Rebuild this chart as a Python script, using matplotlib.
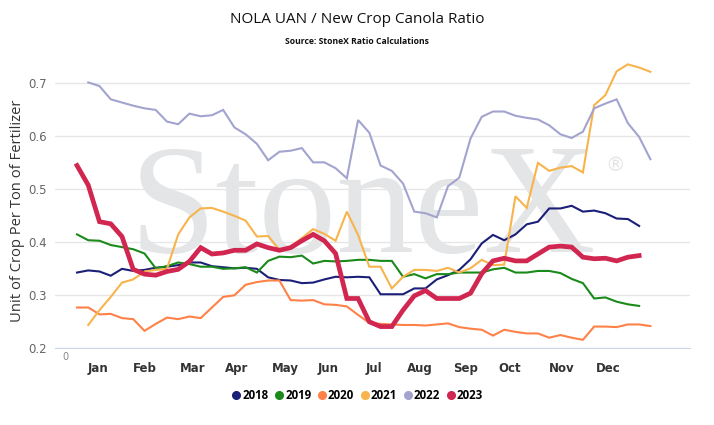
import matplotlib.pyplot as plt
from matplotlib.lines import Line2D
import numpy as np

# weekly ratio readings (None = no reading that week)
r2018 = [0.343, 0.347, 0.345, 0.337, 0.350, 0.346, 0.348, 0.352, 0.354, 0.357,
         0.362, 0.362, 0.355, 0.353, 0.351, 0.352, 0.350, 0.334, 0.329, 0.328,
         0.323, 0.324, 0.330, 0.335, 0.334, 0.335, 0.334, 0.302, 0.302, 0.302,
         0.313, 0.313, 0.330, 0.338, 0.348, 0.368, 0.398, 0.414, 0.404, 0.415,
         0.434, 0.439, 0.464, 0.464, 0.469, 0.458, 0.460, 0.455, 0.445, 0.444,
         0.431, None]
r2019 = [0.415, 0.404, 0.403, 0.395, 0.391, 0.387, 0.379, 0.351, 0.355, 0.362,
         0.359, 0.354, 0.354, 0.350, 0.351, 0.353, 0.343, 0.365, 0.373, 0.372,
         0.375, 0.360, 0.365, 0.364, 0.365, 0.367, 0.367, 0.365, 0.365, 0.335,
         0.340, 0.332, 0.340, 0.340, 0.343, 0.343, 0.343, 0.349, 0.352, 0.343,
         0.343, 0.346, 0.346, 0.342, 0.331, 0.323, 0.294, 0.296, 0.288, 0.283,
         0.280, None]
r2020 = [0.277, 0.277, 0.264, 0.265, 0.257, 0.255, 0.233, 0.246, 0.258, 0.255,
         0.260, 0.257, 0.277, 0.297, 0.300, 0.320, 0.325, 0.328, 0.328, 0.291,
         0.290, 0.291, 0.283, 0.282, 0.279, 0.263, 0.248, 0.246, 0.245, 0.244,
         0.244, 0.243, 0.245, 0.247, 0.240, 0.237, 0.235, 0.224, 0.235, 0.231,
         0.228, 0.228, 0.220, 0.225, 0.220, 0.216, 0.241, 0.241, 0.240, 0.245,
         0.245, 0.242]
r2021 = [None, 0.244, 0.272, 0.297, 0.324, 0.330, 0.345, 0.348, 0.350, 0.415,
         0.447, 0.464, 0.465, 0.458, 0.450, 0.441, 0.411, 0.412, 0.386, 0.392,
         0.408, 0.425, 0.416, 0.403, 0.458, 0.414, 0.354, 0.354, 0.313, 0.335,
         0.348, 0.348, 0.346, 0.352, 0.343, 0.351, 0.367, 0.357, 0.358, 0.487,
         0.465, 0.550, 0.535, 0.541, 0.544, 0.532, 0.659, 0.678, 0.723, 0.736,
         0.730, 0.722]
r2022 = [None, 0.702, 0.695, 0.670, 0.664, 0.658, 0.653, 0.650, 0.628, 0.623,
         0.643, 0.638, 0.640, 0.650, 0.617, 0.604, 0.586, 0.555, 0.571, 0.573,
         0.578, 0.551, 0.551, 0.540, 0.521, 0.631, 0.607, 0.545, 0.535, 0.511,
         0.458, 0.455, 0.447, 0.506, 0.522, 0.596, 0.637, 0.647, 0.647, 0.639,
         0.635, 0.632, 0.621, 0.604, 0.597, 0.609, 0.653, 0.662, 0.670, 0.625,
         0.599, 0.557]
r2023 = [0.545, 0.508, 0.439, 0.435, 0.411, 0.349, 0.340, 0.338, 0.345, 0.349,
         0.364, 0.390, 0.378, 0.380, 0.385, 0.385, 0.397, 0.390, 0.385, 0.390,
         0.403, 0.415, 0.403, 0.379, 0.294, 0.294, 0.250, 0.241, 0.241, 0.272,
         0.299, 0.309, 0.294, 0.294, 0.294, 0.304, 0.341, 0.365, 0.370, 0.365,
         0.365, 0.378, 0.391, 0.393, 0.391, 0.372, 0.369, 0.370, 0.365, 0.372,
         0.375, None]

years = ['2018', '2019', '2020', '2021', '2022', '2023']
series = [r2018, r2019, r2020, r2021, r2022, r2023]
colors = ['#1b1f78', '#1a8a1a', '#ff8147', '#f8b44c', '#a2a4cf', '#d0264f']
widths = [1.5, 1.5, 1.5, 1.5, 1.5, 3.4]

months = ['Jan', 'Feb', 'Mar', 'Apr', 'May', 'Jun',
          'Jul', 'Aug', 'Sep', 'Oct', 'Nov', 'Dec']
month_pos = [1.87, 6.05, 10.32, 14.23, 18.5, 22.33,
             26.42, 30.52, 34.52, 38.52, 43.15, 47.24]

fig = plt.figure(figsize=(7.14, 4.25), dpi=100)
ax = fig.add_axes([0.077, 0.1805, 0.889, 0.678])

# watermark
ax.text(0.485, 0.335, 'StoneX', transform=ax.transAxes, ha='center',
        va='baseline', fontsize=112, family='Liberation Serif',
        color='#e4e5e7', zorder=0.3)
ax.text(0.883, 0.636, '\u00ae', transform=ax.transAxes, ha='center',
        va='center', fontsize=14, color='#e4e5e7', zorder=0.3)

for vals, c, lw in zip(series, colors, widths):
    x = np.arange(len(vals))
    y = np.array([np.nan if v is None else v for v in vals])
    ax.plot(x, y, color=c, lw=lw, solid_joinstyle='miter', zorder=2)

ax.set_xlim(-1.96, 54.5)
ax.set_ylim(0.2, 0.744)
ax.set_yticks([0.2, 0.3, 0.4, 0.5, 0.6, 0.7])
ax.set_yticklabels(['0.2', '0.3', '0.4', '0.5', '0.6', '0.7'])
ax.set_xticks(month_pos)
ax.set_xticklabels(months, fontweight='bold')
ax.tick_params(axis='x', length=0, pad=10, labelsize=8.5, labelcolor='#333333')
ax.tick_params(axis='y', length=0, pad=6, labelsize=8.5, labelcolor='#666666')
ax.grid(axis='y', color='#e6e6e6', lw=1)
ax.set_axisbelow(True)
for s in ['top', 'right', 'left']:
    ax.spines[s].set_visible(False)
ax.spines['bottom'].set_color('#ccd6eb')

ax.text(-1.07, 0.184, '0', fontsize=7, color='#888888', ha='center', va='center')

fig.text(18 / 714, 0.505, 'Unit of Crop Per Ton of Fertilizer', rotation=90,
         ha='center', va='center', fontsize=10.6, family='Open Sans',
         color='#333333')

fig.text(0.5, 0.953, 'NOLA UAN / New Crop Canola Ratio', ha='center',
         va='center', fontsize=11, family='Open Sans', color='#111111')
fig.text(0.5, 0.903, 'Source: StoneX Ratio Calculations', ha='center',
         va='center', fontsize=6.2, family='Open Sans', fontweight='bold',
         color='#111111')

handles = [Line2D([], [], marker='o', ls='none', color=c, markersize=5.5)
           for c in colors]
fig.legend(handles, years, loc='center', bbox_to_anchor=(0.5, 0.07),
           ncol=6, frameon=False, handletextpad=0.1, columnspacing=0.45,
           handlelength=0.9, prop={'family': 'Open Sans', 'weight': 'bold',
                                   'size': 8.3})

plt.savefig('out.png', dpi=100)
